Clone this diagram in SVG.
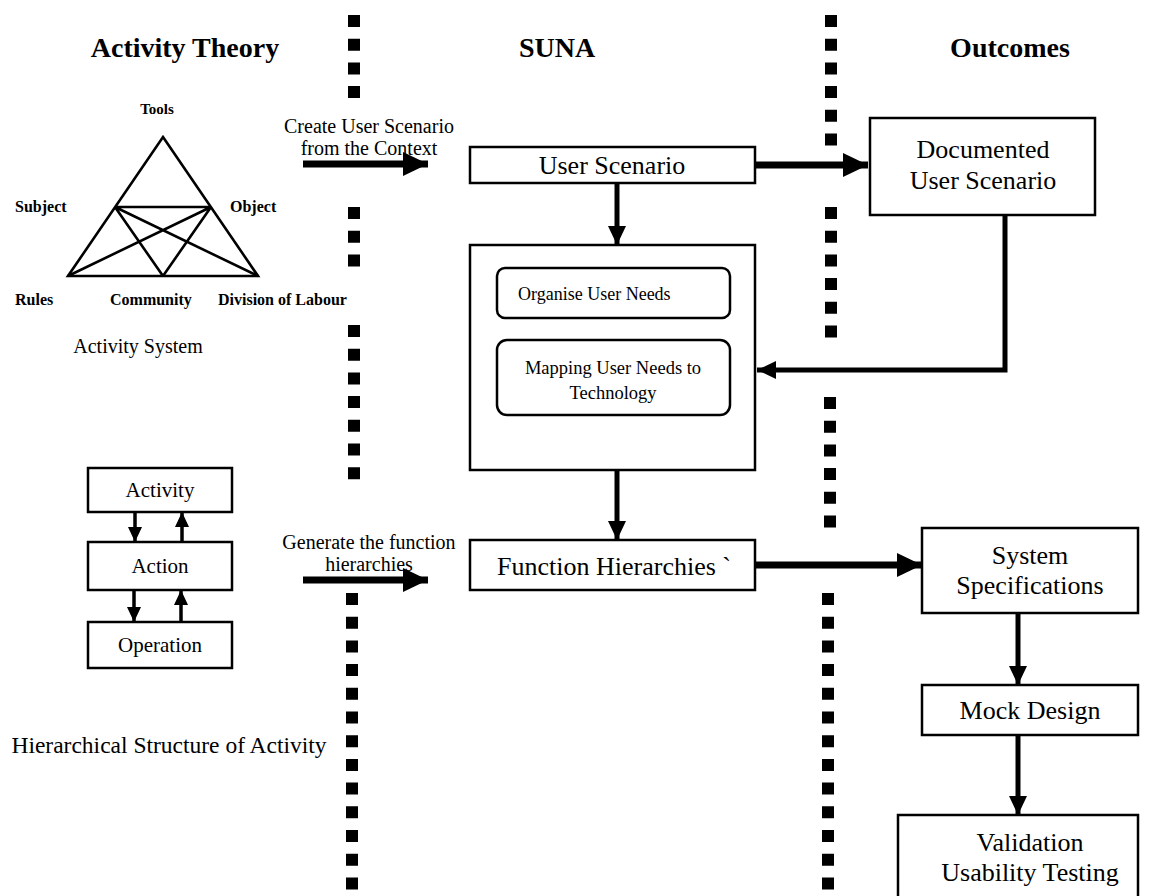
<svg xmlns="http://www.w3.org/2000/svg" width="1161" height="896" viewBox="0 0 1161 896">
  <style>
    .bg { fill: #ffffff; }
    .box { fill: #ffffff; stroke: #000; stroke-width: 2.5; }
    .rbox { fill: #ffffff; stroke: #000; stroke-width: 2.5; }
    .tri { fill: none; stroke: #000; stroke-width: 2.6; stroke-linejoin: miter; }
    .dots { stroke: #000; stroke-width: 12; stroke-dasharray: 12 11.7; fill: none; }
    .big { stroke: #000; stroke-width: 7; fill: none; }
    .mid { stroke: #000; stroke-width: 5; fill: none; }
    .small { stroke: #000; stroke-width: 3.5; fill: none; }
    text { font-family: "Liberation Serif", "Times New Roman", serif; fill: #000; }
    .head { font-size: 28px; font-weight: bold; }
    .lbl { font-size: 16px; font-weight: bold; }
    .cap { font-size: 20px; }
    .node { font-size: 26px; }
    .inner { font-size: 18px; }
    .lvl { font-size: 21px; }
  </style>
  <defs>
    <marker id="ahBig" markerUnits="userSpaceOnUse" markerWidth="26" markerHeight="24" refX="25" refY="12" orient="auto">
      <path d="M0,0 L25,12 L0,24 Z" fill="#000"/>
    </marker>
    <marker id="ahMid" markerUnits="userSpaceOnUse" markerWidth="20" markerHeight="18" refX="19" refY="9" orient="auto">
      <path d="M0,0 L19,9 L0,18 Z" fill="#000"/>
    </marker>
    <marker id="ahSmall" markerUnits="userSpaceOnUse" markerWidth="16" markerHeight="14" refX="15" refY="7" orient="auto">
      <path d="M0,0 L15,7 L0,14 Z" fill="#000"/>
    </marker>
  </defs>

  <rect class="bg" x="0" y="0" width="1161" height="896"/>

  <!-- column headings -->
  <g id="headings">
    <text class="head" x="185" y="57" text-anchor="middle">Activity Theory</text>
    <text class="head" x="557" y="57" text-anchor="middle">SUNA</text>
    <text class="head" x="1010" y="57" text-anchor="middle">Outcomes</text>
  </g>

  <!-- column separators -->
  <g id="separators">
    <path class="dots" d="M354,15 V105"/>
    <path class="dots" d="M354,207 V271"/>
    <path class="dots" d="M354,325 V488"/>
    <path class="dots" d="M352,593 V895"/>
    <path class="dots" d="M831,15 V152"/>
    <path class="dots" d="M831,207 V342"/>
    <path class="dots" d="M830,397 V536"/>
    <path class="dots" d="M828,593 V895"/>
  </g>

  <!-- activity system triangle -->
  <g id="activity-system">
    <path class="tri" d="M163,137 L258,276 L68,276 Z"/>
    <path class="tri" d="M115,207 H211 M115,207 L163,276 M115,207 L258,276 M211,207 L68,276 M211,207 L163,276"/>
    <text class="lbl" x="157" y="114" text-anchor="middle" style="font-size:15px">Tools</text>
    <text class="lbl" x="15" y="212">Subject</text>
    <text class="lbl" x="230" y="212">Object</text>
    <text class="lbl" x="15" y="305">Rules</text>
    <text class="lbl" x="110" y="305">Community</text>
    <text class="lbl" x="218" y="305">Division of Labour</text>
    <text class="cap" x="138" y="353" text-anchor="middle">Activity System</text>
  </g>

  <!-- hierarchical structure of activity -->
  <g id="activity">
    <rect class="box" x="88" y="468" width="144" height="44"/>
    <text class="lvl" x="160" y="497" text-anchor="middle">Activity</text>
  </g>
  <g id="action">
    <rect class="box" x="88" y="542" width="144" height="48"/>
    <text class="lvl" x="160" y="573" text-anchor="middle">Action</text>
  </g>
  <g id="operation">
    <rect class="box" x="88" y="622" width="144" height="46"/>
    <text class="lvl" x="160" y="652" text-anchor="middle">Operation</text>
  </g>
  <g id="hierarchy-caption">
    <text x="169" y="753" text-anchor="middle" style="font-size:23.5px">Hierarchical Structure of Activity</text>
  </g>

  <!-- SUNA steps -->
  <g id="create-label">
    <text class="cap" x="369" y="133" text-anchor="middle">Create User Scenario</text>
    <text class="cap" x="369" y="155" text-anchor="middle">from the Context</text>
  </g>
  <g id="user-scenario">
    <rect class="box" x="470" y="147" width="285" height="36"/>
    <text class="node" x="612" y="174" text-anchor="middle">User Scenario</text>
  </g>
  <g id="user-needs">
    <rect class="box" x="470" y="245" width="285" height="225"/>
    <rect class="rbox" x="497" y="268" width="233" height="50" rx="8"/>
    <text class="inner" x="518" y="300">Organise User Needs</text>
    <rect class="rbox" x="497" y="340" width="233" height="75" rx="10"/>
    <text class="inner" x="613" y="374" text-anchor="middle" style="font-size:18.5px">Mapping User Needs to</text>
    <text class="inner" x="613" y="399" text-anchor="middle" style="font-size:18.5px">Technology</text>
  </g>
  <g id="generate-label">
    <text class="cap" x="369" y="549" text-anchor="middle">Generate the function</text>
    <text class="cap" x="369" y="571" text-anchor="middle">hierarchies</text>
  </g>
  <g id="function-hierarchies">
    <rect class="box" x="470" y="540" width="285" height="50"/>
    <text class="node" x="614" y="575" text-anchor="middle">Function Hierarchies `</text>
  </g>

  <!-- outcomes -->
  <g id="documented-scenario">
    <rect class="box" x="870" y="118" width="225" height="97"/>
    <text class="node" x="983" y="158" text-anchor="middle">Documented</text>
    <text class="node" x="983" y="189" text-anchor="middle">User Scenario</text>
  </g>
  <g id="system-specifications">
    <rect class="box" x="922" y="528" width="216" height="85"/>
    <text class="node" x="1030" y="564" text-anchor="middle">System</text>
    <text class="node" x="1030" y="594" text-anchor="middle">Specifications</text>
  </g>
  <g id="mock-design">
    <rect class="box" x="922" y="685" width="216" height="50"/>
    <text class="node" x="1030" y="719" text-anchor="middle">Mock Design</text>
  </g>
  <g id="validation">
    <rect class="box" x="898" y="815" width="240" height="90"/>
    <text class="node" x="1030" y="851" text-anchor="middle">Validation</text>
    <text class="node" x="1030" y="881" text-anchor="middle">Usability Testing</text>
  </g>

  <!-- connectors -->
  <g id="connectors">
    <line class="big" x1="303" y1="164" x2="428" y2="164" marker-end="url(#ahBig)"/>
    <line class="big" x1="755" y1="165" x2="868" y2="165" marker-end="url(#ahBig)"/>
    <line class="mid" x1="617" y1="183" x2="617" y2="245" marker-end="url(#ahMid)"/>
    <path class="mid" d="M1005,215 V370 H757" marker-end="url(#ahMid)"/>
    <line class="mid" x1="617" y1="470" x2="617" y2="540" marker-end="url(#ahMid)"/>
    <line class="big" x1="303" y1="580" x2="428" y2="580" marker-end="url(#ahBig)"/>
    <line class="big" x1="755" y1="565" x2="922" y2="565" marker-end="url(#ahBig)"/>
    <line class="mid" x1="1018" y1="613" x2="1018" y2="685" marker-end="url(#ahMid)"/>
    <line class="mid" x1="1018" y1="735" x2="1018" y2="815" marker-end="url(#ahMid)"/>
    <line class="small" x1="135" y1="512" x2="135" y2="542" marker-end="url(#ahSmall)"/>
    <line class="small" x1="182" y1="542" x2="182" y2="512" marker-end="url(#ahSmall)"/>
    <line class="small" x1="134" y1="590" x2="134" y2="622" marker-end="url(#ahSmall)"/>
    <line class="small" x1="181" y1="622" x2="181" y2="590" marker-end="url(#ahSmall)"/>
  </g>
</svg>
